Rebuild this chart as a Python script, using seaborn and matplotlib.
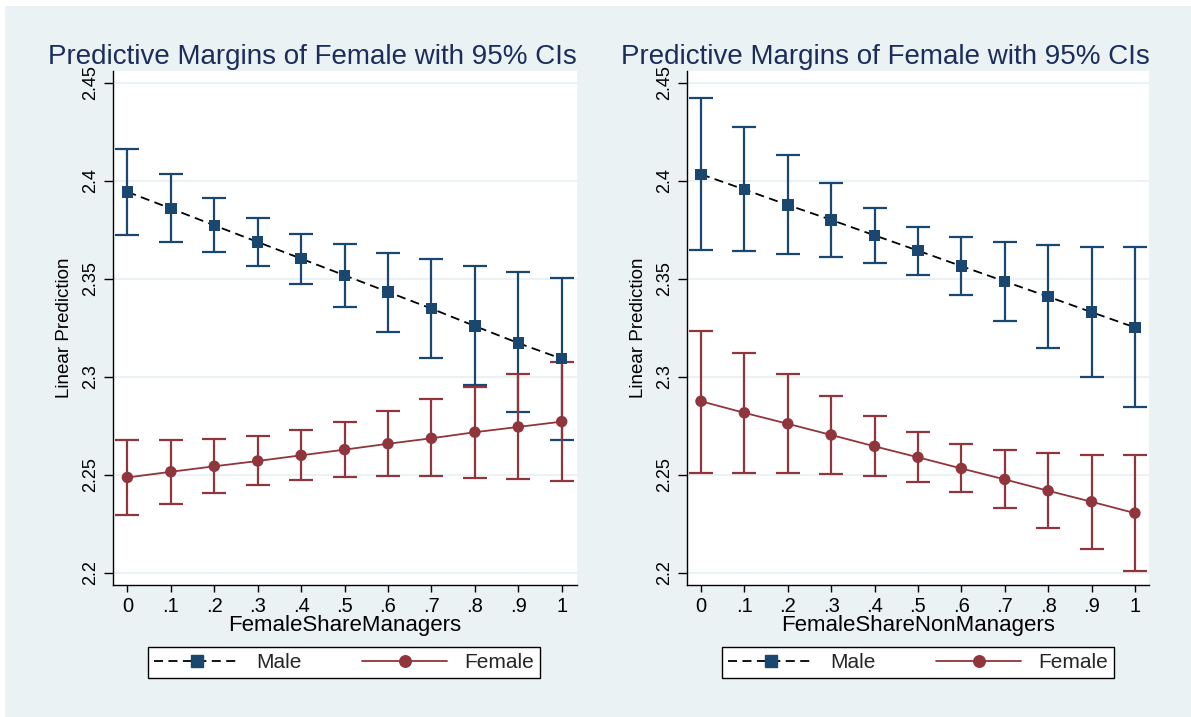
import numpy as np
import pandas as pd
import matplotlib
matplotlib.use("Agg")
import matplotlib.pyplot as plt
from matplotlib.patches import Rectangle
from matplotlib.lines import Line2D
import seaborn as sns

# ---------------- data ----------------
share = [0, .1, .2, .3, .4, .5, .6, .7, .8, .9, 1]
xtick_labels = ["0", ".1", ".2", ".3", ".4", ".5", ".6", ".7", ".8", ".9", "1"]
ytick_values = [2.2, 2.25, 2.3, 2.35, 2.4, 2.45]
ytick_labels = ["2.2", "2.25", "2.3", "2.35", "2.4", "2.45"]
groups = ["Male", "Female"]

mgr_male = [2.3944, 2.3859, 2.3773, 2.3688, 2.3603, 2.3518, 2.3433, 2.3348, 2.3259, 2.3172, 2.3092]
mgr_male_lo = [2.3726, 2.3687, 2.3637, 2.3567, 2.3472, 2.3358, 2.3230, 2.3095, 2.2959, 2.2821, 2.2679]
mgr_male_hi = [2.4162, 2.4034, 2.3912, 2.3809, 2.3731, 2.3676, 2.3634, 2.3600, 2.3564, 2.3535, 2.3504]
mgr_female = [2.2486, 2.2515, 2.2543, 2.2570, 2.2599, 2.2628, 2.2658, 2.2686, 2.2717, 2.2744, 2.2771]
mgr_female_lo = [2.2296, 2.2353, 2.2406, 2.2445, 2.2473, 2.2488, 2.2492, 2.2492, 2.2485, 2.2476, 2.2466]
mgr_female_hi = [2.2677, 2.2677, 2.2684, 2.2698, 2.2729, 2.2771, 2.2823, 2.2884, 2.2947, 2.3012, 2.3076]

nonmgr_male = [2.4034, 2.3956, 2.3877, 2.3801, 2.3722, 2.3644, 2.3565, 2.3487, 2.3409, 2.3330, 2.3252]
nonmgr_male_lo = [2.3647, 2.3641, 2.3629, 2.3613, 2.3583, 2.3521, 2.3419, 2.3284, 2.3145, 2.2998, 2.2846]
nonmgr_male_hi = [2.4424, 2.4276, 2.4131, 2.3988, 2.3860, 2.3765, 2.3712, 2.3688, 2.3675, 2.3665, 2.3660]
nonmgr_female = [2.2875, 2.2816, 2.2760, 2.2703, 2.2645, 2.2589, 2.2532, 2.2476, 2.2418, 2.2362, 2.2304]
nonmgr_female_lo = [2.2510, 2.2510, 2.2509, 2.2503, 2.2491, 2.2463, 2.2410, 2.2328, 2.2226, 2.2119, 2.2011]
nonmgr_female_hi = [2.3235, 2.3121, 2.3012, 2.2903, 2.2802, 2.2717, 2.2656, 2.2625, 2.2609, 2.2603, 2.2601]

panel_titles = ["Predictive Margins of Female with 95% CIs",
                "Predictive Margins of Female with 95% CIs"]
panel_xlabels = ["FemaleShareManagers", "FemaleShareNonManagers"]
ylabel = "Linear Prediction"


def make_df(male, male_lo, male_hi, female, female_lo, female_hi):
    rows = []
    for g, m, lo, hi in (("Male", male, male_lo, male_hi),
                         ("Female", female, female_lo, female_hi)):
        for x, v, l, h in zip(share, m, lo, hi):
            rows.append({"x": x, "group": g, "margin": v, "lo": l, "hi": h})
    return pd.DataFrame(rows)


panels = [
    make_df(mgr_male, mgr_male_lo, mgr_male_hi, mgr_female, mgr_female_lo, mgr_female_hi),
    make_df(nonmgr_male, nonmgr_male_lo, nonmgr_male_hi, nonmgr_female, nonmgr_female_lo, nonmgr_female_hi),
]

# ---------------- style ----------------
BG = "#EAF2F3"
NAVY = "#1A476F"
MAROON = "#90353B"
TITLE_C = "#1C2D5C"

sns.set_theme(style="white")
plt.rcParams["font.family"] = ["Liberation Sans", "DejaVu Sans"]

W, H = 1191, 717
fig = plt.figure(figsize=(W / 100, H / 100), dpi=100)
fig.patch.set_facecolor("white")
fig.add_artist(Rectangle((5 / W, 0), 1, (H - 6) / H, transform=fig.transFigure,
                         facecolor=BG, edgecolor="none", zorder=-10))

axes_px = [(113.3, 577.0), (687.2, 1149.4)]
xlims = [(-0.0325, 1.0352), (-0.0318, 1.0334)]
legend_px = [(148, 540), (721.6, 1113.9)]
top_px, bot_px = 71, 585

for i, df in enumerate(panels):
    x0, x1 = axes_px[i]
    ax = fig.add_axes([x0 / W, (H - bot_px) / H, (x1 - x0) / W, (bot_px - top_px) / H])
    ax.set_facecolor("white")
    ax.set_axisbelow(True)

    # CIs
    for g, col in (("Male", NAVY), ("Female", MAROON)):
        d = df[df.group == g]
        ax.errorbar(d.x, d.margin, yerr=[d.margin - d.lo, d.hi - d.margin], fmt="none",
                    ecolor=col, elinewidth=1.6, capsize=8.5, capthick=1.6, zorder=2)

    sns.lineplot(data=df, x="x", y="margin", hue="group", style="group",
                 hue_order=groups, style_order=groups,
                 palette={"Male": "black", "Female": MAROON},
                 dashes={"Male": (5, 3), "Female": ""},
                 linewidth=1.3, errorbar=None, legend=False, ax=ax, zorder=3)
    sns.scatterplot(data=df, x="x", y="margin", hue="group", style="group",
                    hue_order=groups, style_order=groups,
                    palette={"Male": NAVY, "Female": MAROON},
                    markers={"Male": "s", "Female": "o"},
                    s=68, linewidth=0, legend=False, ax=ax, zorder=4)

    ax.set_xlim(*xlims[i])
    ax.set_ylim(2.1937, 2.4561)
    ax.set_xticks(share, labels=xtick_labels)
    ax.set_yticks(ytick_values, labels=ytick_labels)
    ax.yaxis.grid(True, color=BG, linewidth=1.5)
    ax.xaxis.grid(False)
    for s in ("top", "right"):
        ax.spines[s].set_visible(False)
    for s in ("left", "bottom"):
        ax.spines[s].set_color("black")
        ax.spines[s].set_linewidth(1.0)
    ax.tick_params(axis="both", direction="out", width=1, color="black",
                   labelcolor="black", bottom=True, left=True)
    ax.tick_params(axis="x", labelsize=14.5, length=5, pad=3.7)
    ax.tick_params(axis="y", labelsize=13, labelrotation=90, length=6.5, pad=3.7)
    for lab in ax.get_yticklabels():
        lab.set_va("center")

    ax.set_xlabel(panel_xlabels[i], fontsize=16, color="black", labelpad=-1)
    ax.set_ylabel(ylabel, fontsize=13.5, color="black")
    ax.yaxis.set_label_coords(-0.087, 0.5)

    ax.text(1.0, 1.0136, panel_titles[i], transform=ax.transAxes, ha="right",
            va="baseline", fontsize=20, color=TITLE_C)

    handles = [
        Line2D([], [], color="black", linestyle=(0, (5, 3)), linewidth=1.3, marker="s",
               markersize=8.3, markerfacecolor=NAVY, markeredgecolor=NAVY),
        Line2D([], [], color=MAROON, linewidth=1.3, marker="o", markersize=8.3,
               markerfacecolor=MAROON, markeredgecolor=MAROON),
    ]
    lx0, lx1 = legend_px[i]
    leg = fig.legend(handles, groups, loc="center",
                     bbox_to_anchor=(lx0 / W, (H - 680) / H, (lx1 - lx0) / W, 35 / H),
                     bbox_transform=fig.transFigure, mode="expand", ncol=2,
                     fontsize=15, frameon=True, fancybox=False, shadow=False,
                     borderpad=0.3, handlelength=4.1, handletextpad=0.8,
                     borderaxespad=0)
    fr = leg.get_frame()
    fr.set_edgecolor("black")
    fr.set_linewidth(1.0)
    fr.set_facecolor("white")
    fr.set_alpha(1)

fig.savefig("out.png", dpi=100, facecolor=fig.get_facecolor())
